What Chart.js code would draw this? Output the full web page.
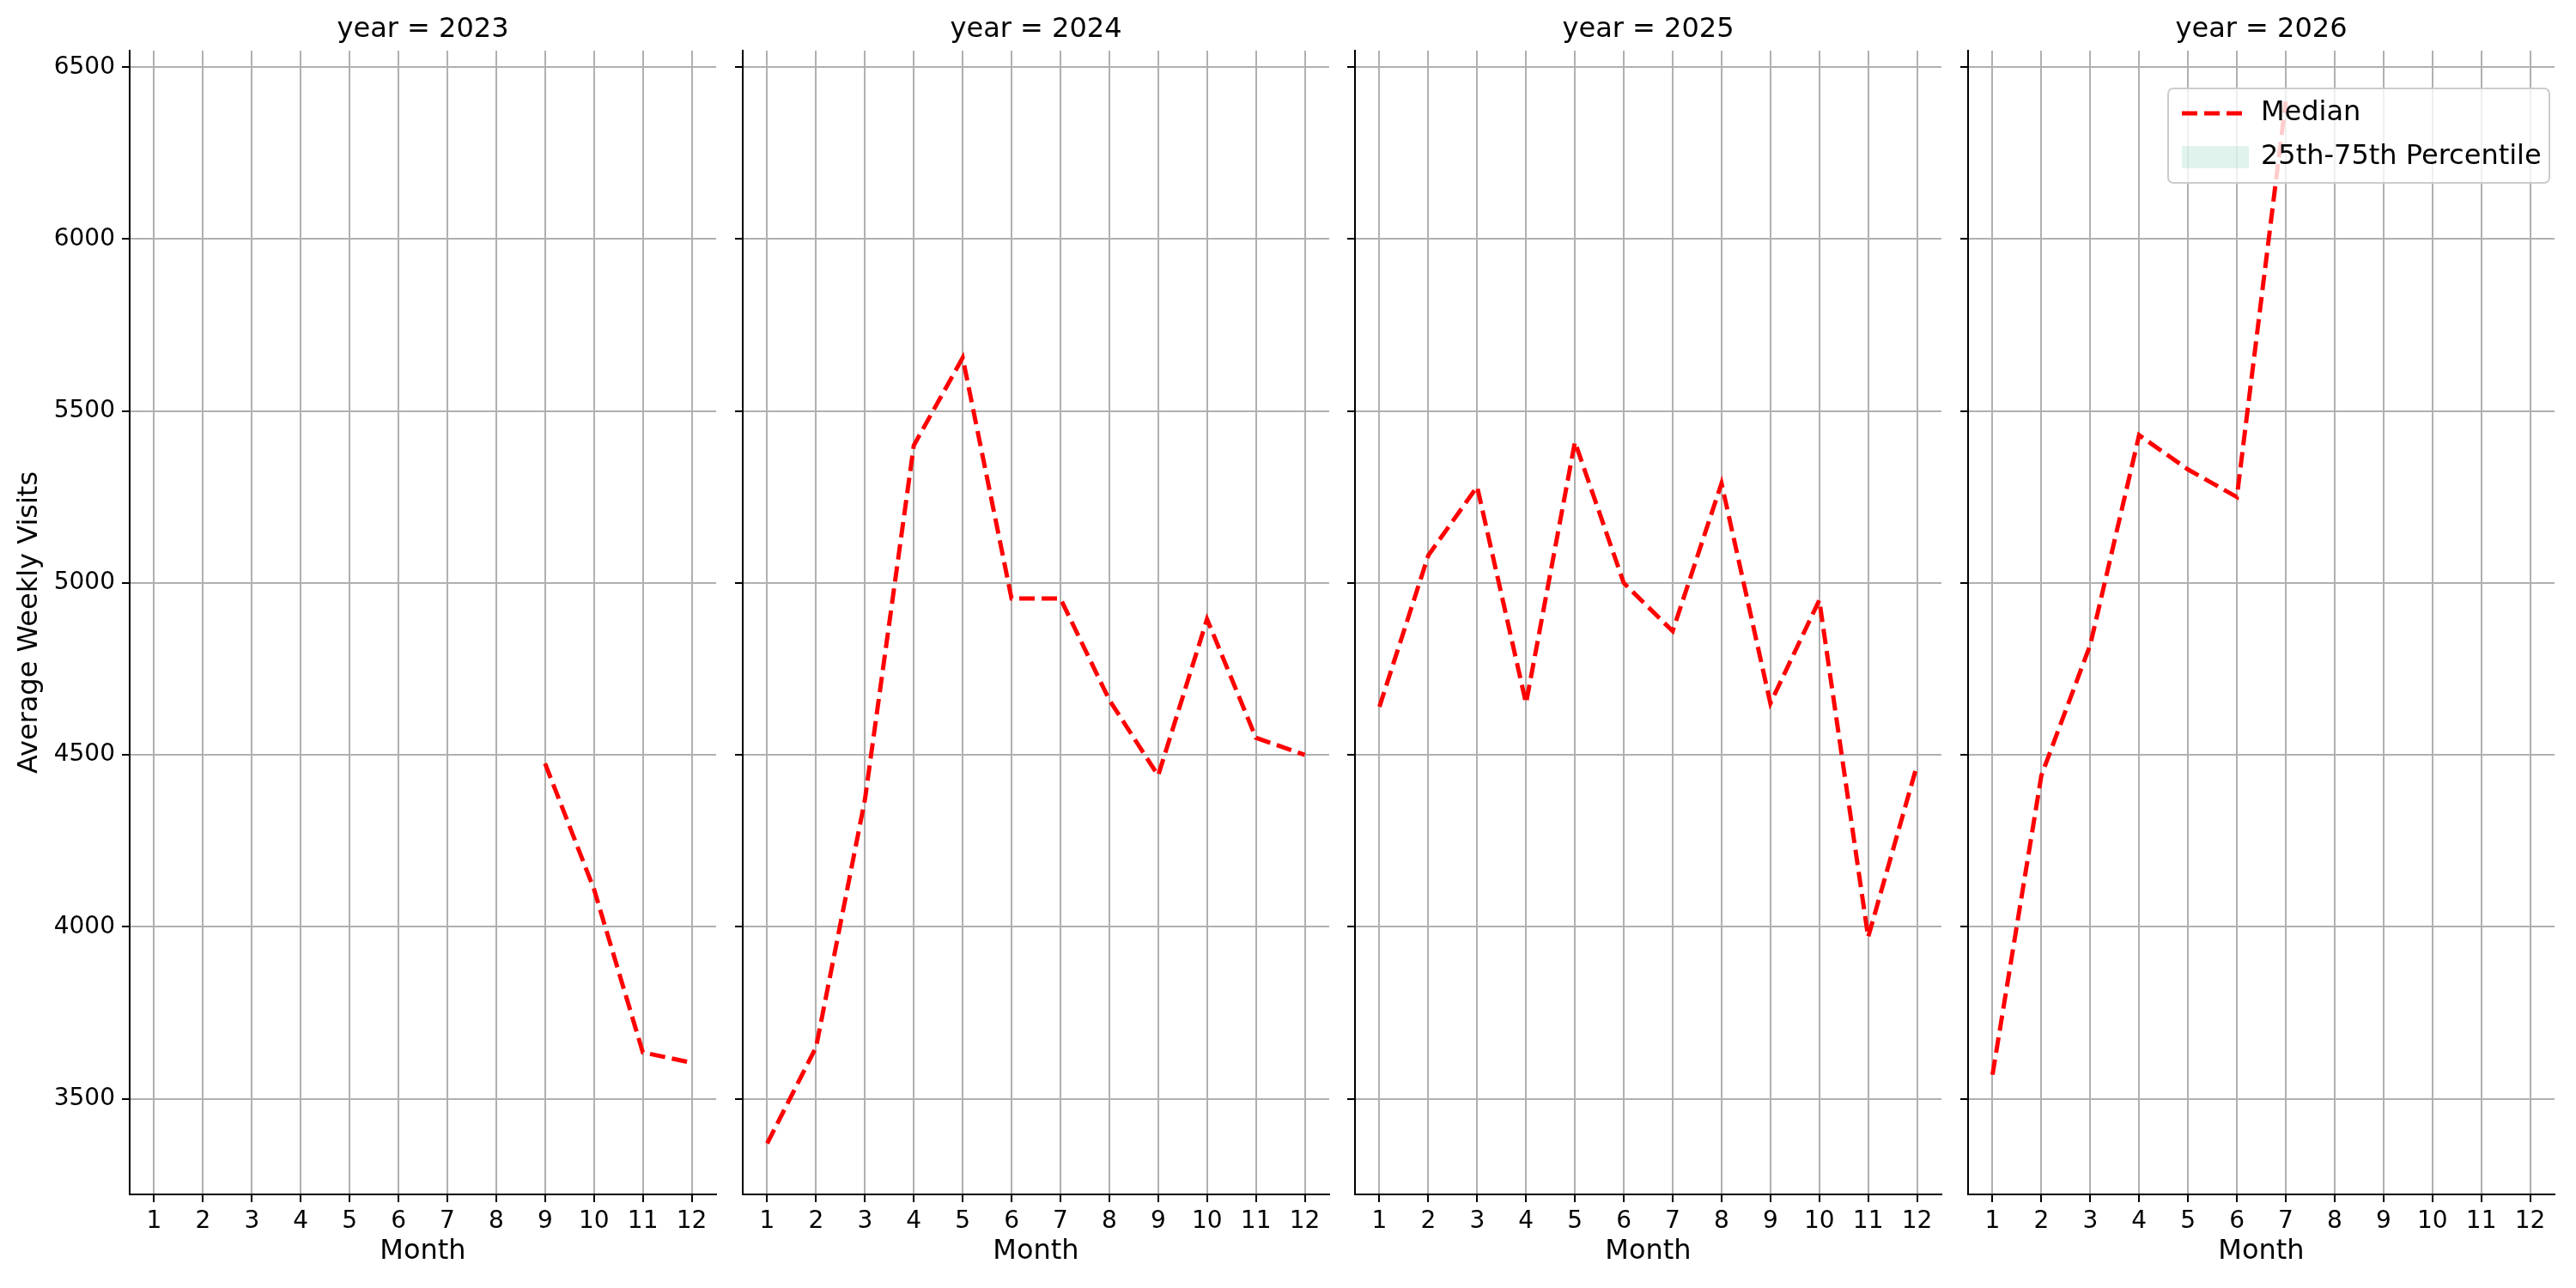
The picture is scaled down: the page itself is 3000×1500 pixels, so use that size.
<!DOCTYPE html>
<html><head><meta charset="utf-8">
<script src="https://cdn.jsdelivr.net/npm/chart.js@4"></script>
<style>body{margin:0;background:#fff}#wrap{position:relative;width:3000px;height:1500px}canvas{position:absolute;left:0;top:0}</style>
</head><body><div id="wrap"></div>
<script>
const years = [2023, 2024, 2025, 2026];
const months = [1,2,3,4,5,6,7,8,9,10,11,12];
const median2023 = [null,null,null,null,null,null,null,null,4475,4110,3635,3605];
const median2024 = [3370,3650,4370,5400,5655,4955,4955,4660,4440,4895,4550,4500];
const median2025 = [4640,5080,5280,4650,5410,5000,4860,5290,4650,4950,3970,4470];
const median2026 = [3570,4440,4820,5430,5330,5250,6400,null,null,null,null,null];
const yTicks = [3500,4000,4500,5000,5500,6000,6500];
const medians = [median2023, median2024, median2025, median2026];
const panelLeft = [151, 865, 1578, 2292];
const panelW = 683;
const FONT = 'DejaVu Sans';
Chart.defaults.font.family = FONT;
Chart.defaults.color = '#000';

const deco = {
  id:'deco',
  afterDraw(c, a, o){
    const ctx=c.ctx, ca=c.chartArea;
    ctx.save();
    ctx.fillStyle='#000'; ctx.font='32px '+FONT; ctx.textAlign='center'; ctx.textBaseline='bottom';
    ctx.fillText(o.title,(ca.left+ca.right)/2,ca.top-8);
    if(o.legend){
      const x=ca.right-450, y=ca.top+44, w=444, h=110;
      ctx.fillStyle='rgba(255,255,255,0.8)'; ctx.strokeStyle='#ccc'; ctx.lineWidth=2;
      ctx.beginPath(); ctx.roundRect(x,y,w,h,6); ctx.fill(); ctx.stroke();
      ctx.strokeStyle='red'; ctx.lineWidth=5; ctx.setLineDash([18,8]);
      ctx.beginPath(); ctx.moveTo(x+16,y+29); ctx.lineTo(x+94,y+29); ctx.stroke(); ctx.setLineDash([]);
      ctx.fillStyle='rgba(102,194,165,0.2)'; ctx.fillRect(x+16,y+67,78,26);
      ctx.fillStyle='#000'; ctx.font='32px '+FONT; ctx.textAlign='left'; ctx.textBaseline='middle';
      ctx.fillText(c.data.datasets[0].label,x+108,y+29);
      ctx.fillText(c.data.datasets[1].label,x+108,y+80);
    }
    ctx.restore();
  }
};
const bg={id:'bg',beforeDraw(c){const x=c.ctx;x.save();x.fillStyle='#fff';x.fillRect(0,0,c.width,c.height);x.restore();}};

years.forEach((yr,i)=>{
  const cv=document.createElement('canvas'); cv.width=3000; cv.height=1500;
  cv.style.width='3000px'; cv.style.height='1500px';
  document.getElementById('wrap').appendChild(cv);
  const W = i===0 ? 140 : 60;
  new Chart(cv,{
    type:'line',
    data:{datasets:[
      {label:'Median',data:months.map((m,k)=>({x:m,y:medians[i][k]})),borderColor:'red',borderWidth:5,borderDash:[18,8],pointRadius:0,fill:false,spanGaps:false},
      {label:'25th-75th Percentile',data:[],backgroundColor:'rgba(102,194,165,0.2)',borderWidth:0,pointRadius:0}
    ]},
    plugins: i===0?[bg,deco]:[deco],
    options:{
      responsive:false,animation:false,devicePixelRatio:1,
      layout:{padding:{left:panelLeft[i]-W,right:3000-panelLeft[i]-panelW,top:59,bottom:19}},
      plugins:{legend:{display:false},tooltip:{enabled:false},deco:{title:'year = '+yr,legend:i===3}},
      scales:{
        x:{type:'linear',min:0.5,max:12.5,
          afterBuildTicks:s=>{s.ticks=months.map(v=>({value:v}));},
          afterFit:s=>{s.height=90;},
          ticks:{font:{size:28},padding:6,maxRotation:0,autoSkip:false},
          grid:{color:'#b0b0b0',lineWidth:2,tickColor:'#000',tickLength:9},
          border:{color:'#000',width:2},
          title:{display:true,text:'Month',font:{size:32},padding:{top:0}}},
        y:{type:'linear',min:3222,max:6548,
          afterBuildTicks:s=>{s.ticks=yTicks.map(v=>({value:v}));},
          afterFit:s=>{s.width=W;},
          ticks:{font:{size:28},padding:8,callback:v=>i===0?String(v):''},
          grid:{color:'#b0b0b0',lineWidth:2,tickColor:'#000',tickLength:9},
          border:{color:'#000',width:2},
          title:{display:i===0,text:'Average Weekly Visits',font:{size:32},padding:{bottom:4}}}
      }
    }
  });
});
</script></body></html>
